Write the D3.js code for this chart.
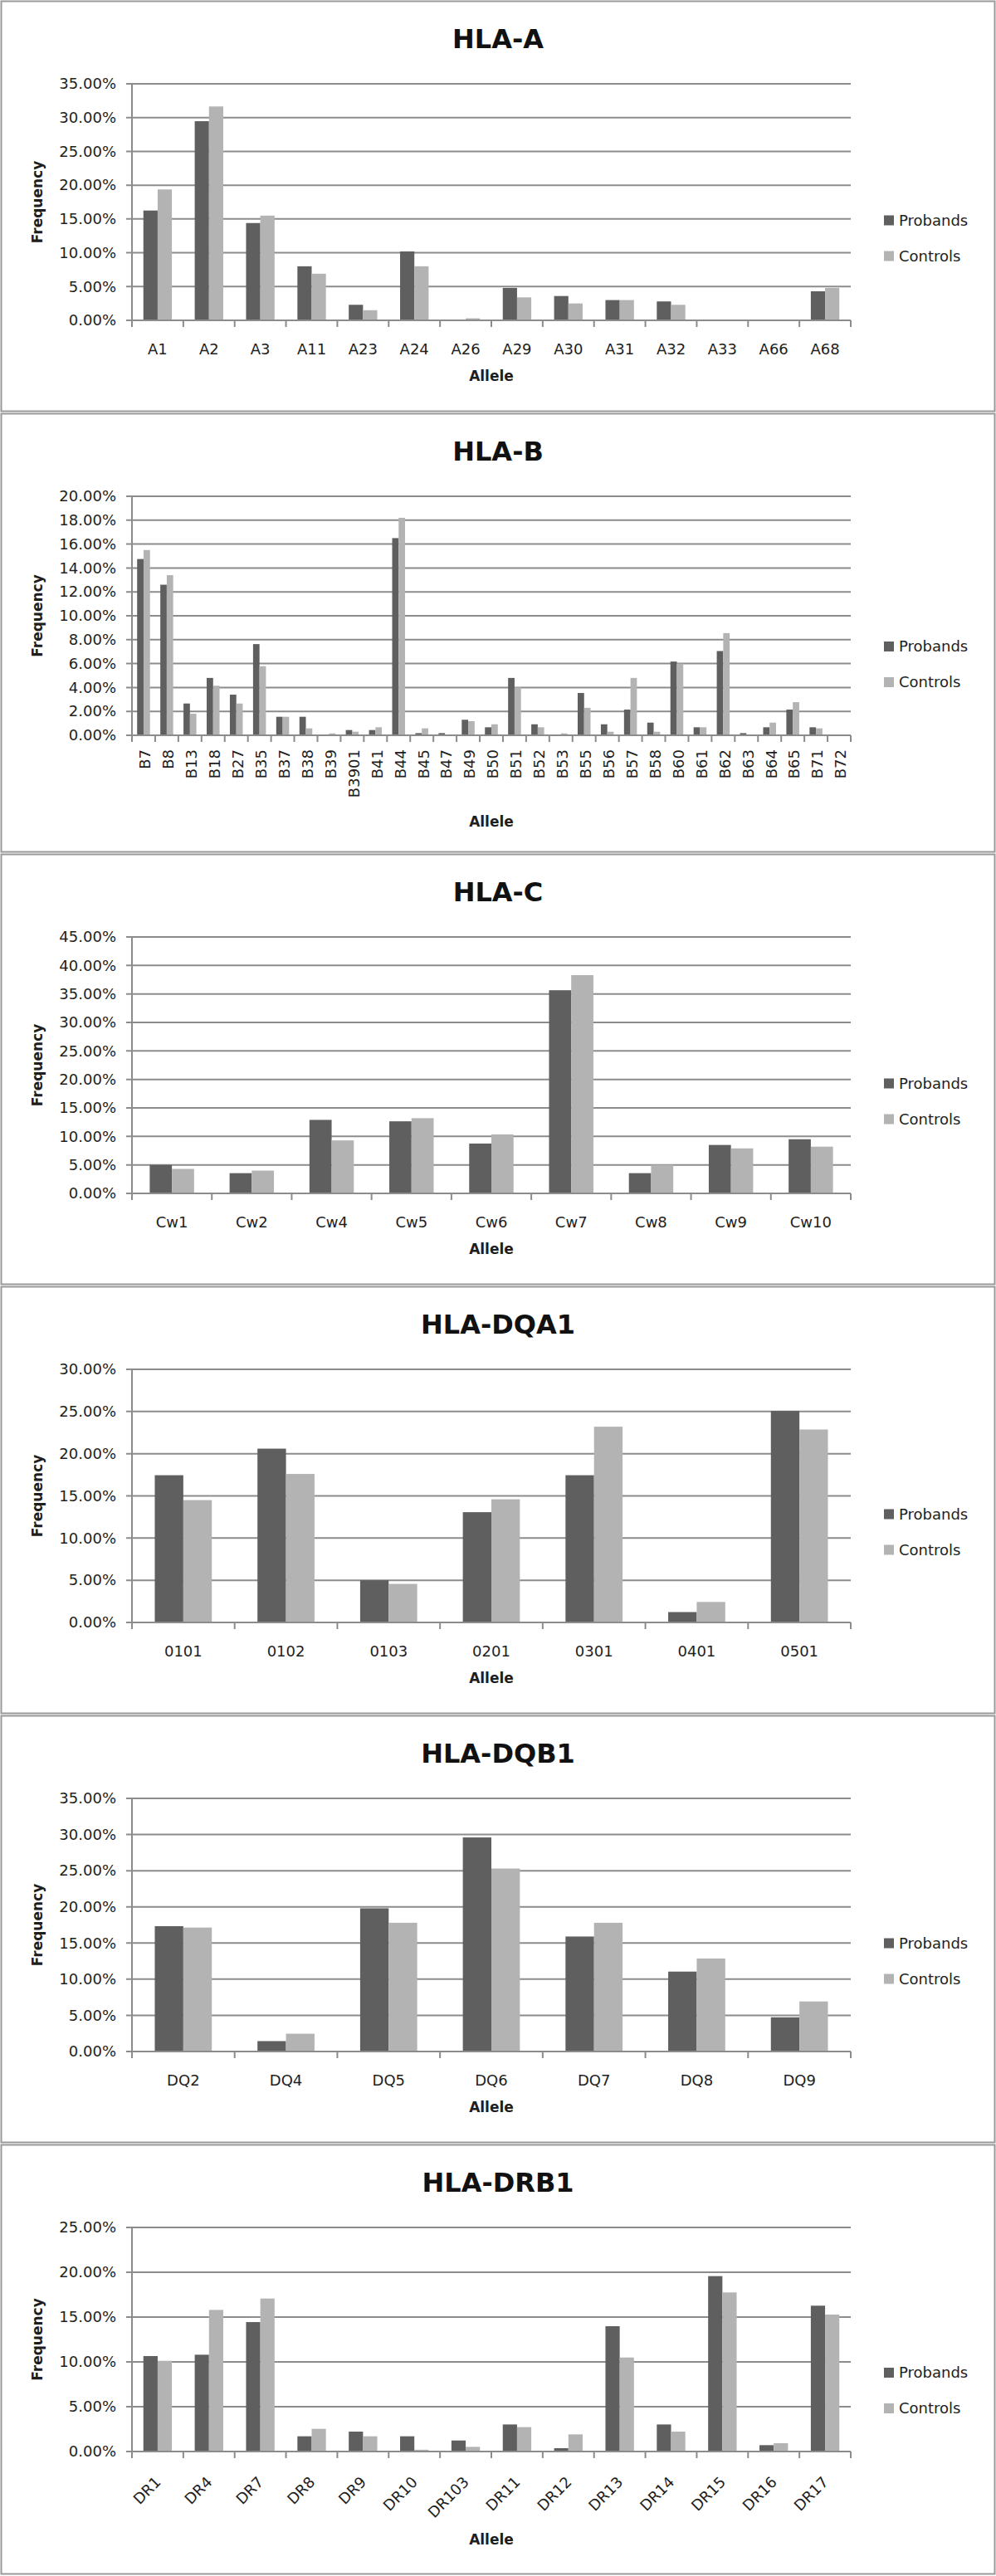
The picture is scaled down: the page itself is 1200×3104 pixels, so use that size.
<!DOCTYPE html>
<html lang="en">
<head>
  <meta charset="UTF-8">
  <title>HLA allele frequencies</title>
  <script src="https://d3js.org/d3.v7.min.js"></script>
  <style>
    body {
      margin: 0;
      background: #fff;
      font-family: "DejaVu Sans", Verdana, sans-serif;
    }

    .tick-label, .cat-label, .legend text {
      font-size: 18px;
      fill: #1e1e1e;
    }

    .axis-title {
      font-size: 17px;
      font-weight: bold;
      fill: #1e1e1e;
    }

    .chart-title {
      font-size: 32px;
      font-weight: bold;
      fill: #111;
    }
  </style>
</head>
<body>
  <div id="chart"></div>

  <script>
    const seriesNames = ["Probands", "Controls"];
    const seriesColors = ["#5f5f5f", "#b3b3b3"];

    // HLA-A
    const hlaA_alleles = ["A1", "A2", "A3", "A11", "A23", "A24", "A26", "A29", "A30", "A31", "A32", "A33", "A66", "A68"];
    const hlaA_probands = [0.1625, 0.2947, 0.1440, 0.0800, 0.0230, 0.1020, 0, 0.0480, 0.0360, 0.0300, 0.0280, 0, 0, 0.0430];
    const hlaA_controls = [0.1937, 0.3165, 0.1550, 0.0690, 0.0150, 0.0800, 0.0030, 0.0340, 0.0250, 0.0300, 0.0230, 0, 0, 0.0480];

    // HLA-B
    const hlaB_alleles = ["B7", "B8", "B13", "B18", "B27", "B35", "B37", "B38", "B39", "B3901", "B41", "B44", "B45", "B47", "B49", "B50",
      "B51", "B52", "B53", "B55", "B56", "B57", "B58", "B60", "B61", "B62", "B63", "B64", "B65", "B71", "B72"];
    const hlaB_probands = [0.1475, 0.1260, 0.0266, 0.0480, 0.0340, 0.0763, 0.0155, 0.0155, 0, 0.0044, 0.0044, 0.1650, 0.0018, 0.0018, 0.0130, 0.0067,
      0.0480, 0.0092, 0, 0.0354, 0.0092, 0.0215, 0.0106, 0.0617, 0.0067, 0.0705, 0.0018, 0.0067, 0.0215, 0.0067, 0];
    const hlaB_controls = [0.1550, 0.1340, 0.0180, 0.0415, 0.0266, 0.0578, 0.0155, 0.0058, 0.0016, 0.0030, 0.0067, 0.1820, 0.0058, 0, 0.0118, 0.0092,
      0.0400, 0.0067, 0.0016, 0.0230, 0.0030, 0.0480, 0.0030, 0.0600, 0.0067, 0.0855, 0, 0.0106, 0.0277, 0.0058, 0];

    // HLA-C
    const hlaC_alleles = ["Cw1", "Cw2", "Cw4", "Cw5", "Cw6", "Cw7", "Cw8", "Cw9", "Cw10"];
    const hlaC_probands = [0.0500, 0.0355, 0.1290, 0.1265, 0.0875, 0.3565, 0.0355, 0.0850, 0.0950];
    const hlaC_controls = [0.0430, 0.0400, 0.0930, 0.1320, 0.1035, 0.3830, 0.0500, 0.0790, 0.0820];

    // HLA-DQA1
    const dqa1_alleles = ["0101", "0102", "0103", "0201", "0301", "0401", "0501"];
    const dqa1_probands = [0.1745, 0.2060, 0.0500, 0.1307, 0.1745, 0.0123, 0.2507];
    const dqa1_controls = [0.1450, 0.1760, 0.0457, 0.1460, 0.2320, 0.0243, 0.2287];

    // HLA-DQB1
    const dqb1_alleles = ["DQ2", "DQ4", "DQ5", "DQ6", "DQ7", "DQ8", "DQ9"];
    const dqb1_probands = [0.1733, 0.0144, 0.1980, 0.2960, 0.1590, 0.1105, 0.0473];
    const dqb1_controls = [0.1714, 0.0246, 0.1780, 0.2530, 0.1780, 0.1286, 0.0692];

    // HLA-DRB1
    const drb1_alleles = ["DR1", "DR4", "DR7", "DR8", "DR9", "DR10", "DR103", "DR11", "DR12", "DR13", "DR14", "DR15", "DR16", "DR17"];
    const drb1_probands = [0.1065, 0.1080, 0.1444, 0.0170, 0.0222, 0.0170, 0.0123, 0.0302, 0.0037, 0.1398, 0.0302, 0.1957, 0.0071, 0.1627];
    const drb1_controls = [0.1012, 0.1580, 0.1707, 0.0253, 0.0170, 0.0020, 0.0052, 0.0272, 0.0191, 0.1049, 0.0222, 0.1775, 0.0093, 0.1528];

    // panel layout (top, height) and y axis range for each chart
    const charts = [
      { title: "HLA-A", cats: hlaA_alleles, vals: [hlaA_probands, hlaA_controls], yMax: 0.35, yStep: 0.05, top: 0, h: 497, rot: 0 },
      { title: "HLA-B", cats: hlaB_alleles, vals: [hlaB_probands, hlaB_controls], yMax: 0.20, yStep: 0.02, top: 497, h: 531, rot: 90 },
      { title: "HLA-C", cats: hlaC_alleles, vals: [hlaC_probands, hlaC_controls], yMax: 0.45, yStep: 0.05, top: 1028, h: 521, rot: 0 },
      { title: "HLA-DQA1", cats: dqa1_alleles, vals: [dqa1_probands, dqa1_controls], yMax: 0.30, yStep: 0.05, top: 1549, h: 517, rot: 0 },
      { title: "HLA-DQB1", cats: dqb1_alleles, vals: [dqb1_probands, dqb1_controls], yMax: 0.35, yStep: 0.05, top: 2066, h: 517, rot: 0 },
      { title: "HLA-DRB1", cats: drb1_alleles, vals: [drb1_probands, drb1_controls], yMax: 0.25, yStep: 0.05, top: 2583, h: 520, rot: 45 }
    ];

    const W = 1200, H = 3104;
    const plotLeft = 159, plotRight = 1025;
    const gridColor = "#8c8c8c";
    const gapWidth = 1.6; // excel style gap width, relative to one bar

    // bottom margin depends on how the category labels are set
    const bottomMargin = { 0: 111, 90: 142, 45: 149 };
    const alleleOffset = { 0: 73, 90: 110, 45: 112 };
    const legendOffset = { 0: 22, 90: 37, 45: 40 };

    const svg = d3.select("#chart")
      .append("svg")
      .attr("width", W)
      .attr("height", H);

    svg.append("rect")
      .attr("width", W)
      .attr("height", H)
      .attr("fill", "#fff");

    charts.forEach(function(ch) {
      const g = svg.append("g");
      const plotTop = ch.top + 101;
      const zero = ch.top + ch.h - bottomMargin[ch.rot];

      // panel frame
      g.append("rect")
        .attr("x", 1.5)
        .attr("y", ch.top + 1.5)
        .attr("width", W - 3)
        .attr("height", ch.h - 3)
        .attr("fill", "none")
        .attr("stroke", "#999")
        .attr("stroke-width", 2);

      const pad = gapWidth / (2 + gapWidth);
      const x0 = d3.scaleBand()
        .domain(ch.cats)
        .range([plotLeft, plotRight])
        .paddingInner(pad)
        .paddingOuter(pad / 2);
      const x1 = d3.scaleBand()
        .domain(seriesNames)
        .range([0, x0.bandwidth()]);
      const y = d3.scaleLinear()
        .domain([0, ch.yMax])
        .range([zero, plotTop]);

      const ticks = d3.range(0, ch.yMax + ch.yStep / 2, ch.yStep);

      // gridlines, with the short outside tick on the left
      g.selectAll(".grid")
        .data(ticks)
        .enter().append("line")
        .attr("x1", plotLeft - 7)
        .attr("x2", plotRight)
        .attr("y1", d => y(d))
        .attr("y2", d => y(d))
        .attr("stroke", gridColor)
        .attr("stroke-width", 2);

      // y axis labels
      const yAxis = g.append("g")
        .attr("transform", `translate(${plotLeft},0)`)
        .call(d3.axisLeft(y).tickValues(ticks).tickFormat(d3.format(".2%")).tickSize(0).tickPadding(19));
      yAxis.select(".domain").remove();
      yAxis.selectAll("text")
        .attr("class", "tick-label")
        .style("font-family", "DejaVu Sans")
        .style("font-size", "18px")
        .attr("fill", "#1e1e1e");

      // bars
      const groups = g.selectAll(".cat")
        .data(ch.cats)
        .enter().append("g")
        .attr("transform", d => `translate(${x0(d)},0)`);

      groups.selectAll("rect")
        .data((d, i) => seriesNames.map((s, k) => ({ s: s, v: ch.vals[k][i], k: k })))
        .enter().append("rect")
        .attr("x", d => x1(d.s))
        .attr("y", d => y(d.v))
        .attr("width", x1.bandwidth())
        .attr("height", d => zero - y(d.v))
        .attr("fill", d => seriesColors[d.k]);

      // axis lines
      g.append("line")
        .attr("x1", plotLeft).attr("x2", plotLeft)
        .attr("y1", plotTop).attr("y2", zero)
        .attr("stroke", gridColor).attr("stroke-width", 2);
      g.append("line")
        .attr("x1", plotLeft - 7).attr("x2", plotRight)
        .attr("y1", zero).attr("y2", zero)
        .attr("stroke", gridColor).attr("stroke-width", 2);

      // category boundary ticks
      const bounds = d3.range(ch.cats.length + 1).map(i => plotLeft + i * x0.step());
      g.selectAll(".xtick")
        .data(bounds)
        .enter().append("line")
        .attr("x1", d => d).attr("x2", d => d)
        .attr("y1", zero).attr("y2", zero + 8)
        .attr("stroke", gridColor).attr("stroke-width", 2);

      // category labels
      const cx = d => x0(d) + x0.bandwidth() / 2;
      const labels = g.selectAll(".cat-label")
        .data(ch.cats)
        .enter().append("text")
        .attr("class", "cat-label");
      if (ch.rot === 0) {
        labels.attr("x", cx)
          .attr("y", zero + 41)
          .attr("text-anchor", "middle")
          .text(d => d);
      } else if (ch.rot === 90) {
        labels.attr("transform", d => `translate(${cx(d) + 2},${zero + 17}) rotate(-90)`)
          .attr("text-anchor", "end")
          .attr("dy", "0.35em")
          .text(d => d);
      } else {
        labels.attr("transform", d => `translate(${cx(d) + 5},${zero + 38}) rotate(-45)`)
          .attr("text-anchor", "end")
          .text(d => d);
      }

      // titles
      g.append("text")
        .attr("class", "chart-title")
        .attr("x", W / 2)
        .attr("y", ch.top + 58)
        .attr("text-anchor", "middle")
        .text(ch.title);

      g.append("text")
        .attr("class", "axis-title")
        .attr("transform", `translate(51,${(plotTop + zero) / 2}) rotate(-90)`)
        .attr("text-anchor", "middle")
        .text("Frequency");

      g.append("text")
        .attr("class", "axis-title")
        .attr("x", (plotLeft + plotRight) / 2)
        .attr("y", zero + alleleOffset[ch.rot])
        .attr("text-anchor", "middle")
        .text("Allele");

      // legend
      const legY = (plotTop + zero) / 2 + legendOffset[ch.rot];
      const leg = g.append("g").attr("class", "legend");
      const items = leg.selectAll("g")
        .data(seriesNames)
        .enter().append("g")
        .attr("transform", (d, i) => `translate(1065,${legY + i * 43})`);
      items.append("rect")
        .attr("x", 0).attr("y", -6)
        .attr("width", 12).attr("height", 12)
        .attr("fill", (d, i) => seriesColors[i]);
      items.append("text")
        .attr("x", 18)
        .attr("dy", "0.36em")
        .text(d => d);
    });
  </script>
</body>
</html>
